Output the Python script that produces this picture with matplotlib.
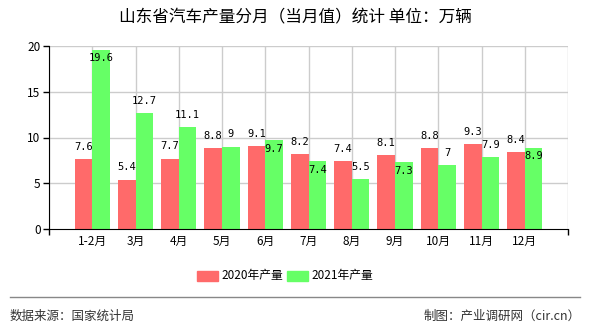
import matplotlib
matplotlib.use("Agg")
import matplotlib.pyplot as plt
from matplotlib.patches import Rectangle
from matplotlib.lines import Line2D
import numpy as np

plt.rcParams['font.family'] = ['Noto Sans CJK SC', 'DejaVu Sans']

categories = ['1-2月', '3月', '4月', '5月', '6月', '7月', '8月', '9月', '10月', '11月', '12月']
prod_2020 = [7.6, 5.4, 7.7, 8.8, 9.1, 8.2, 7.4, 8.1, 8.8, 9.3, 8.4]
prod_2021 = [19.6, 12.7, 11.1, 9.0, 9.7, 7.4, 5.5, 7.3, 7.0, 7.9, 8.9]
labels_2020 = ['7.6', '5.4', '7.7', '8.8', '9.1', '8.2', '7.4', '8.1', '8.8', '9.3', '8.4']
labels_2021 = ['19.6', '12.7', '11.1', '9', '9.7', '7.4', '5.5', '7.3', '7', '7.9', '8.9']
# label placement for 2021 series (True = inside bar top)
inside_2021 = [True, False, False, False, True, True, False, True, False, False, True]
series_names = ['2020年产量', '2021年产量']
yticks = [0, 5, 10, 15, 20]

RED = '#ff6a6a'
GREEN = '#66ff66'

fig = plt.figure(figsize=(5.9, 3.3), dpi=100)
ax = fig.add_axes([49/590, 1 - 229/330, (568 - 49)/590, (229 - 46)/330])

x = np.arange(len(categories))
w = 0.41
ax.bar(x - w/2, prod_2020, width=w, color=RED, zorder=3)
ax.bar(x + w/2, prod_2021, width=w, color=GREEN, zorder=3)

lblfont = dict(family='DejaVu Sans Mono', fontsize=7.5, color='black', zorder=5)
for xi, v, s in zip(x, prod_2020, labels_2020):
    ax.text(xi - w/2, v + 1.33, s, ha='center', va='center', **lblfont)
for xi, v, s, ins in zip(x, prod_2021, labels_2021, inside_2021):
    yy = v - 0.93 if ins else v + 1.33
    ax.text(xi + w/2, yy, s, ha='center', va='center', **lblfont)

ax.set_xlim(-1, len(categories))
ax.set_ylim(0, 20)
ax.set_yticks(yticks)
ax.set_yticklabels([str(t) for t in yticks], fontsize=8.5)
ax.set_xticks(x)
ax.set_xticklabels(categories, fontsize=8.5)
ax.set_xticks(np.arange(-1, len(categories) + 1), minor=True)
ax.tick_params(axis='x', which='major', length=0, pad=4)
ax.tick_params(axis='x', which='minor', length=4, width=1, color='black', direction='out')
ax.tick_params(axis='y', length=4, width=1, color='black', pad=2)

for v in np.arange(-1, len(categories) + 1):
    ax.axvline(v, color='#cccccc', lw=1, zorder=1)
for t in yticks[1:]:
    ax.axhline(t, color='#cccccc', lw=1, zorder=1)

for sp in ['top', 'right']:
    ax.spines[sp].set_visible(False)
ax.spines['left'].set_color('black')
ax.spines['bottom'].set_color('black')
ax.spines['left'].set_zorder(4)
ax.spines['bottom'].set_zorder(4)

fig.text(0.5, 1 - 18/330, '山东省汽车产量分月（当月值）统计 单位：万辆', ha='center', va='center', fontsize=12)

# legend
leg_y = 1 - 276/330
for i, (name, c) in enumerate(zip(series_names, [RED, GREEN])):
    x0 = (197 + i * 90) / 590
    fig.patches.append(Rectangle((x0, leg_y - 5/330), 21/590, 10/330, transform=fig.transFigure, color=c))
    fig.text(x0 + 24/590, leg_y, name, ha='left', va='center', fontsize=8.5)

fig.lines.append(Line2D([10/590, 580/590], [1 - 297/330, 1 - 297/330], transform=fig.transFigure, color='#888888', lw=1))
fig.text(10/590, 1 - 316/330, '数据来源：国家统计局', ha='left', va='center', fontsize=9, color='#333333')
fig.text(581/590, 1 - 316/330, '制图：产业调研网（cir.cn）', ha='right', va='center', fontsize=9, color='#333333')

fig.savefig('out.png', dpi=100)
